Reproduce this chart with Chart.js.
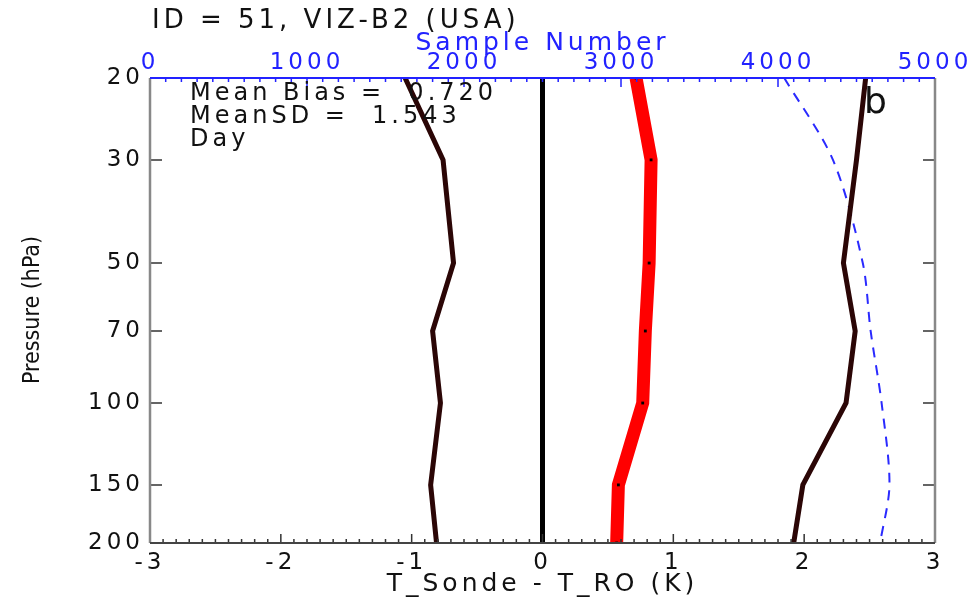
<!DOCTYPE html>
<html>
<head>
<meta charset="utf-8">
<script src="https://cdn.jsdelivr.net/npm/chart.js@4.4.0/dist/chart.umd.min.js"></script>
<style>
  html, body { margin: 0; padding: 0; background: #fff; }
  #wrap { width: 980px; height: 599px; }
</style>
</head>
<body>
<div id="wrap"><canvas id="myChart" width="980" height="599"></canvas></div>
<script>
// pressure levels (hPa) and the profiles
const pressureLevels = [20, 30, 50, 70, 100, 150, 200];
const meanBias = [0.715, 0.83, 0.815, 0.786, 0.766, 0.58, 0.567];
const biasMinusSD = [-1.05, -0.76, -0.68, -0.84, -0.78, -0.855, -0.81];
const biasPlusSD = [2.47, 2.40, 2.30, 2.39, 2.32, 1.99, 1.92];
const sampleNumber = [4040, 4350, 4540, 4590, 4660, 4710, 4650];
const zeroX = [0, 0];
const zeroLevels = [20, 200];

const tempTicks = [-3, -2, -1, 0, 1, 2, 3];
const sampleTicks = [0, 1000, 2000, 3000, 4000, 5000];
const pressureTicks = [20, 30, 50, 70, 100, 150, 200];

const titleText = 'ID = 51, VIZ-B2 (USA)';
const statsLines = ['Mean Bias =  0.720', 'MeanSD =  1.543', 'Day'];
const panelLetter = 'b';

const FONT = "'DejaVu Sans', sans-serif";
const SPACING = '4px';

function pts(xs, ys) {
  return xs.map((v, i) => ({ x: v, y: ys[i] }));
}

// the old plot has wide lettering, so space the text out a bit
const spacing = {
  id: 'spacing',
  beforeLayout(chart) { chart.ctx.letterSpacing = SPACING; },
  beforeDraw(chart) { chart.ctx.letterSpacing = SPACING; }
};

// frame with inward ticks, like the IDL plot
const frame = {
  id: 'frame',
  afterDraw(chart) {
    const { ctx, chartArea: a } = chart;
    const x = chart.scales.x, x2 = chart.scales.x2, y = chart.scales.y;
    ctx.save();
    ctx.lineWidth = 1.5;

    // bottom axis, minor every 0.1
    ctx.strokeStyle = '#333';
    ctx.beginPath();
    for (let i = -30; i <= 30; i++) {
      const px = x.getPixelForValue(i / 10);
      const len = i % 10 === 0 ? 9 : 4;
      ctx.moveTo(px, a.bottom);
      ctx.lineTo(px, a.bottom - len);
    }
    ctx.stroke();

    // top axis, minor every 100
    ctx.strokeStyle = '#2222ff';
    ctx.beginPath();
    for (let i = 0; i <= 50; i++) {
      const px = x2.getPixelForValue(i * 100);
      const len = i % 10 === 0 ? 9 : 4;
      ctx.moveTo(px, a.top);
      ctx.lineTo(px, a.top + len);
    }
    ctx.stroke();

    // left / right pressure ticks
    ctx.strokeStyle = '#333';
    ctx.beginPath();
    pressureTicks.slice(1, -1).forEach(p => {
      const py = y.getPixelForValue(p);
      ctx.moveTo(a.left, py);
      ctx.lineTo(a.left + 12, py);
      ctx.moveTo(a.right, py);
      ctx.lineTo(a.right - 12, py);
    });
    ctx.stroke();

    // borders
    ctx.lineWidth = 2.5;
    ctx.strokeStyle = '#888';
    ctx.beginPath();
    ctx.moveTo(a.left, a.top); ctx.lineTo(a.left, a.bottom);
    ctx.moveTo(a.right, a.top); ctx.lineTo(a.right, a.bottom);
    ctx.stroke();
    ctx.lineWidth = 2;
    ctx.strokeStyle = '#444';
    ctx.beginPath();
    ctx.moveTo(a.left, a.bottom); ctx.lineTo(a.right, a.bottom);
    ctx.stroke();
    ctx.strokeStyle = '#2222ff';
    ctx.beginPath();
    ctx.moveTo(a.left, a.top); ctx.lineTo(a.right, a.top);
    ctx.stroke();
    ctx.restore();
  }
};

// header, stats box, panel letter and the y title
const labels = {
  id: 'labels',
  afterDraw(chart) {
    const { ctx, chartArea: a } = chart;
    ctx.save();
    ctx.letterSpacing = SPACING;
    ctx.fillStyle = '#111';
    ctx.textBaseline = 'middle';
    ctx.textAlign = 'left';
    ctx.font = '26px ' + FONT;
    ctx.fillText(titleText, 152, 21);

    ctx.font = '24px ' + FONT;
    statsLines.forEach((t, i) => ctx.fillText(t, 190, 94 + i * 23));

    ctx.save();
    ctx.beginPath();
    ctx.rect(a.left, a.top + 1, a.right - a.left, a.bottom - a.top);
    ctx.clip();
    ctx.letterSpacing = '0px';
    ctx.font = '36px ' + FONT;
    ctx.textBaseline = 'alphabetic';
    ctx.fillText(panelLetter, 864, 113);
    ctx.restore();

    ctx.letterSpacing = '0px';
    ctx.font = "23px 'Liberation Sans Narrow', 'DejaVu Sans Condensed', sans-serif";
    ctx.translate(33, 310);
    ctx.rotate(-Math.PI / 2);
    ctx.textAlign = 'center';
    ctx.fillText('Pressure (hPa)', 0, 0);
    ctx.restore();
  }
};

const ctxEl = document.getElementById('myChart');
const profile = new Chart(ctxEl, {
  type: 'line',
  data: {
    datasets: [
      {
        label: 'zero',
        data: pts(zeroX, zeroLevels),
        borderColor: '#000',
        borderWidth: 5,
        pointRadius: 0
      },
      {
        label: 'Mean - SD',
        data: pts(biasMinusSD, pressureLevels),
        borderColor: '#2b0606',
        borderWidth: 5,
        pointRadius: 0
      },
      {
        label: 'Mean + SD',
        data: pts(biasPlusSD, pressureLevels),
        borderColor: '#2b0606',
        borderWidth: 5,
        pointRadius: 0
      },
      {
        label: 'Sample Number',
        data: pts(sampleNumber, pressureLevels),
        xAxisID: 'x2',
        borderColor: '#2a2aff',
        borderWidth: 2,
        borderDash: [10, 8],
        tension: 0.3,
        pointRadius: 0
      },
      {
        label: 'Mean Bias',
        data: pts(meanBias, pressureLevels),
        borderColor: '#ff0000',
        borderWidth: 13,
        pointRadius: 2,
        pointStyle: 'rect',
        pointBackgroundColor: '#000',
        pointBorderWidth: 0
      }
    ]
  },
  options: {
    responsive: false,
    devicePixelRatio: 1,
    animation: false,
    layout: { padding: { left: 0, right: 45, top: 0, bottom: 0 } },
    plugins: {
      legend: { display: false },
      tooltip: { enabled: false }
    },
    scales: {
      x: {
        type: 'linear',
        position: 'bottom',
        min: -3,
        max: 3,
        afterBuildTicks: s => { s.ticks = tempTicks.map(v => ({ value: v })); },
        afterFit: s => { s.height = 56; },
        grid: { display: false, drawTicks: false },
        border: { display: false },
        ticks: { color: '#111', padding: 6, font: { family: FONT, size: 23 }, callback: v => String(v) },
        title: {
          display: true,
          text: 'T_Sonde - T_RO (K)',
          color: '#111',
          padding: { top: 0, bottom: 0 },
          font: { family: FONT, size: 25 }
        }
      },
      x2: {
        type: 'linear',
        position: 'top',
        min: 0,
        max: 5000,
        afterBuildTicks: s => { s.ticks = sampleTicks.map(v => ({ value: v })); },
        afterFit: s => { s.height = 78; },
        grid: { display: false, drawTicks: false },
        border: { display: false },
        ticks: { color: '#2222ff', padding: 1, font: { family: FONT, size: 23 }, callback: v => String(v) },
        title: {
          display: true,
          text: 'Sample Number',
          color: '#2222ff',
          padding: { top: 28, bottom: 0 },
          font: { family: FONT, size: 25 }
        }
      },
      y: {
        type: 'logarithmic',
        position: 'left',
        reverse: true,
        min: 20,
        max: 200,
        afterBuildTicks: s => { s.ticks = pressureTicks.map(v => ({ value: v })); },
        afterFit: s => { s.width = 150; },
        grid: { display: false, drawTicks: false },
        border: { display: false },
        ticks: {
          color: '#111',
          padding: 6,
          font: { family: FONT, size: 23 },
          callback: v => String(v)
        }
      }
    }
  },
  plugins: [spacing, frame, labels]
});
</script>
</body>
</html>
